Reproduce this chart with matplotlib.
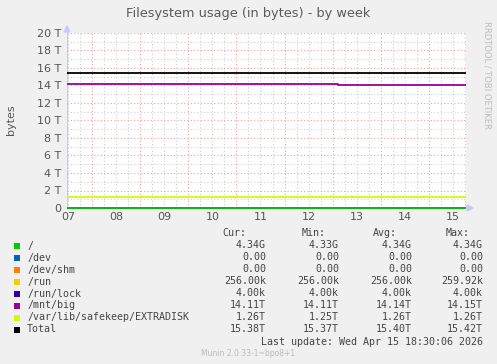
import matplotlib
matplotlib.use("Agg")
import matplotlib.pyplot as plt
from matplotlib.patches import Rectangle

W, H = 497, 364
DPI = 100

# ---------------- data (values in TB, time in hours from Apr 08 00:00) ----------------
day_labels = ["07", "08", "09", "10", "11", "12", "13", "14", "15"]
x_start, x_end = -12.5, 186.5
step_time = 122.5  # small drop of /mnt/big after midnight Apr 13

series_names = ["/", "/dev", "/dev/shm", "/run", "/run/lock", "/mnt/big",
                "/var/lib/safekeep/EXTRADISK", "Total"]
series_colors = ["#00CC00", "#0066B3", "#FF8000", "#FFCC00", "#330099",
                 "#990099", "#CCFF00", "#000000"]
# value before step / after step (TB)
root_vals = [0.00434, 0.00434]
dev_vals = [0.0, 0.0]
shm_vals = [0.0, 0.0]
run_vals = [2.56e-7, 2.56e-7]
lock_vals = [4e-9, 4e-9]
big_vals = [14.15, 14.11]
extra_vals = [1.26, 1.26]
total_vals = [15.42, 15.38]

cur_col = ["4.34G", "0.00", "0.00", "256.00k", "4.00k", "14.11T", "1.26T", "15.38T"]
min_col = ["4.33G", "0.00", "0.00", "256.00k", "4.00k", "14.11T", "1.25T", "15.37T"]
avg_col = ["4.34G", "0.00", "0.00", "256.00k", "4.00k", "14.14T", "1.26T", "15.40T"]
max_col = ["4.34G", "0.00", "0.00", "259.92k", "4.00k", "14.15T", "1.26T", "15.42T"]

y_ticks = [0, 2, 4, 6, 8, 10, 12, 14, 16, 18, 20]
y_tick_labels = ["0"] + [f"{v} T" for v in y_ticks[1:]]

# ---------------- figure ----------------
fig = plt.figure(figsize=(W / DPI, H / DPI), dpi=DPI, facecolor="#F0F0F0")

def fx(x):
    return x / W

def fy(y):
    return 1 - y / H

L, R, T, B = 67, 466, 33, 208
ax = fig.add_axes([fx(L), fy(B), (R - L) / W, (B - T) / H])
ax.set_facecolor("white")
ax.set_xlim(x_start, x_end)
ax.set_ylim(0, 20)

# grid
minor_col = "#cfcfcf"
major_col = "#f2a0a0"
dot = (0, (1, 2))
h = -12
while h <= x_end:
    if h % 24 != 0:
        ax.axvline(h, color=minor_col, lw=0.8, ls=dot, zorder=1)
    h += 6
for d in range(0, 169, 24):
    ax.axvline(d, color=major_col, lw=0.8, ls=dot, zorder=1)
for v in range(1, 21, 2):
    ax.axhline(v, color=minor_col, lw=0.8, ls=dot, zorder=1)
for v in y_ticks[1:]:
    ax.axhline(v, color=major_col, lw=0.8, ls=dot, zorder=1)

# series
xs = [x_start, step_time, x_end]
all_vals = [root_vals, dev_vals, shm_vals, run_vals, lock_vals, big_vals, extra_vals, total_vals]
order = [1, 2, 3, 4, 6, 5, 7, 0]
for i in order:
    vals = all_vals[i]
    ys = [vals[0], vals[1], vals[1]]
    ax.plot(xs, ys, drawstyle="steps-post", color=series_colors[i], lw=1.3,
            zorder=3, solid_capstyle="butt", clip_on=False)

for s in ax.spines.values():
    s.set_visible(False)
ax.axvline(x_start, color="#c8c8ff", lw=1.0, zorder=2)

ax.set_xticks([-12 + 24 * i for i in range(len(day_labels))])
ax.set_xticklabels(day_labels)
ax.set_yticks(y_ticks)
ax.set_yticklabels(y_tick_labels)
ax.tick_params(length=0, labelsize=8, colors="#555555", pad=4)
ax.tick_params(axis="x", pad=3)

# arrows
fig.patches.append(matplotlib.patches.Polygon(
    [(fx(64), fy(32)), (fx(70), fy(32)), (fx(67), fy(26))],
    closed=True, color="#c8c8ff", transform=fig.transFigure))
fig.patches.append(matplotlib.patches.Polygon(
    [(fx(467), fy(205)), (fx(467), fy(211)), (fx(473), fy(208))],
    closed=True, color="#c8c8ff", transform=fig.transFigure))

# texts
fig.text(fx(248), fy(14), "Filesystem usage (in bytes) - by week", ha="center",
         va="center", fontsize=9.3, color="#5a5a5a")
fig.text(fx(11), fy(120), "bytes", rotation=90, ha="center", va="center",
         fontsize=8, color="#555555")
fig.text(fx(487), fy(75), "RRDTOOL / TOBI OETIKER", rotation=270, ha="center",
         va="center", fontsize=6, color="#bbbbbb")

mono = "DejaVu Sans Mono"
fs = 7.2
tc = "#444444"
fig.text(fx(246), fy(233), "Cur:", ha="right", va="center", family=mono, fontsize=fs, color=tc)
fig.text(fx(326), fy(233), "Min:", ha="right", va="center", family=mono, fontsize=fs, color=tc)
fig.text(fx(397), fy(233), "Avg:", ha="right", va="center", family=mono, fontsize=fs, color=tc)
fig.text(fx(470), fy(233), "Max:", ha="right", va="center", family=mono, fontsize=fs, color=tc)

for i, name in enumerate(series_names):
    y = 245.5 + 12 * i
    fig.patches.append(Rectangle((fx(14), fy(y + 3)), 6 / W, 6 / H,
                                 facecolor=series_colors[i], edgecolor="none",
                                 transform=fig.transFigure))
    fig.text(fx(27), fy(y), name, ha="left", va="center", family=mono, fontsize=fs, color=tc)
    fig.text(fx(266), fy(y), cur_col[i], ha="right", va="center", family=mono, fontsize=fs, color=tc)
    fig.text(fx(339), fy(y), min_col[i], ha="right", va="center", family=mono, fontsize=fs, color=tc)
    fig.text(fx(412), fy(y), avg_col[i], ha="right", va="center", family=mono, fontsize=fs, color=tc)
    fig.text(fx(483), fy(y), max_col[i], ha="right", va="center", family=mono, fontsize=fs, color=tc)

fig.text(fx(483), fy(342), "Last update: Wed Apr 15 18:30:06 2026", ha="right",
         va="center", family=mono, fontsize=fs, color=tc)
fig.text(fx(248), fy(353), "Munin 2.0.33-1~bpo8+1", ha="center", va="center",
         fontsize=5.5, color="#bbbbbb")

fig.savefig("out.png", dpi=DPI, facecolor=fig.get_facecolor())
